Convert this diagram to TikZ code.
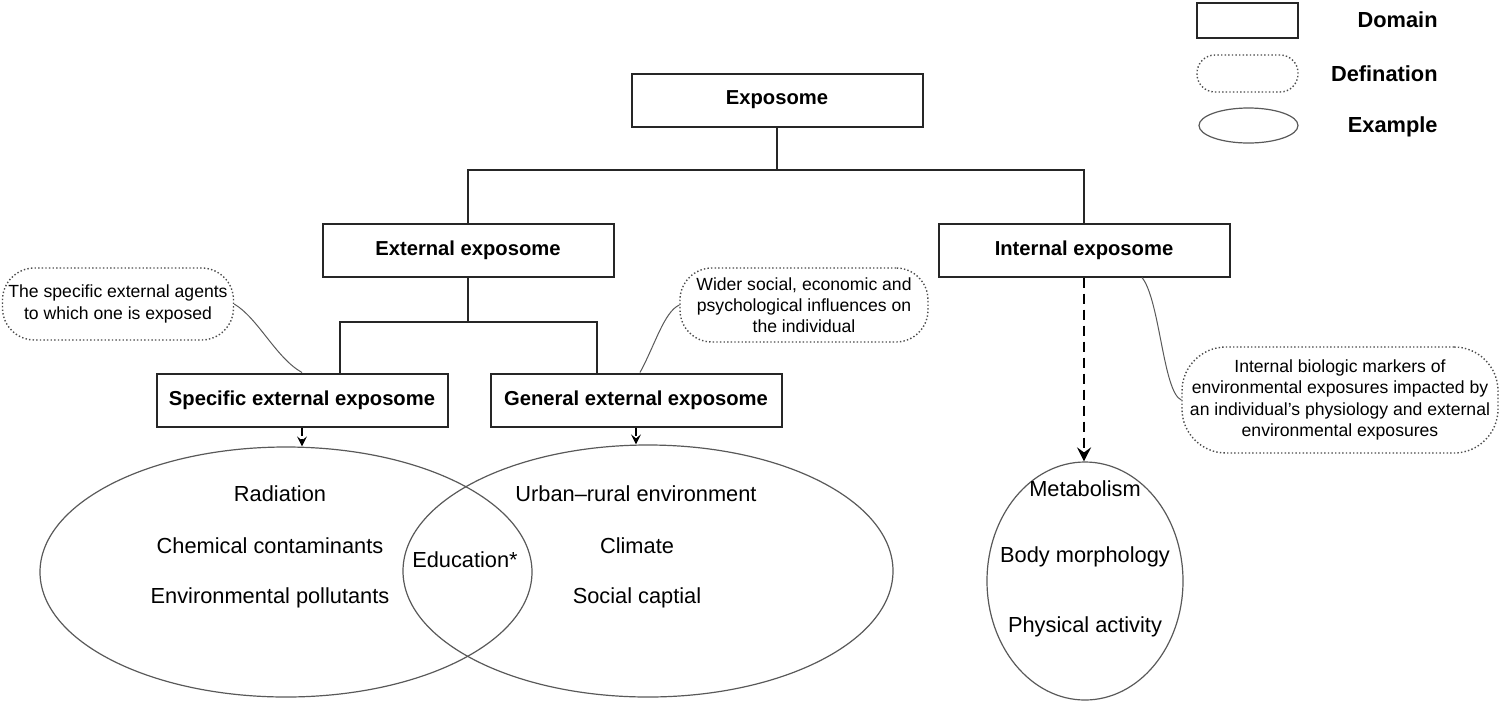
\documentclass[tikz,border=0pt]{standalone}
\usepackage{fontspec}
\setmainfont{Liberation Sans}
\usetikzlibrary{arrows.meta,shapes.geometric}
\begin{document}
\begin{tikzpicture}[x=0.5pt,y=-0.5pt,
  domainbox/.style={draw=black!85,line width=1pt,minimum width=145.5pt,minimum height=26.5pt,inner sep=0pt,font=\fontsize{10.1}{12}\selectfont\bfseries},
  defbox/.style={draw=black!70,line width=0.7pt,dash pattern=on 0.7pt off 1.1pt,rounded corners=16pt,align=center,inner sep=0pt,font=\fontsize{8.8}{10.6}\selectfont},
  exbox/.style={draw=black!65,line width=0.6pt,ellipse,inner sep=0pt},
  txt/.style={font=\fontsize{10.9}{13}\selectfont,inner sep=0pt},
  legtxt/.style={font=\fontsize{10.9}{13}\selectfont\bfseries,anchor=east,inner sep=0pt},
  treeline/.style={draw=black!85,line width=1pt},
  callline/.style={draw=black!65,line width=0.5pt},
  smallarrow/.style={draw=black,line width=1pt,dash pattern=on 4pt off 1.5pt,-{Stealth[length=5pt,width=5pt,inset=2pt]}},
  bigarrow/.style={draw=black,line width=1.3pt,dash pattern=on 5pt off 3pt,-{Stealth[length=7pt,width=7pt,inset=2.5pt]}}
]
\useasboundingbox (0,0) rectangle (1500,703);

% legend
\node[domainbox,minimum width=50.5pt,minimum height=17.5pt] (ldom) at (1247.5,20.5) {};
\node[legtxt] (ldomt) at (1438,20) {Domain};
\node[defbox,minimum width=50.5pt,minimum height=18.5pt,rounded corners=9pt] (ldef) at (1247.5,73.5) {};
\node[legtxt] (ldeft) at (1438,74) {Defination};
\node[exbox,minimum width=49.5pt,minimum height=17.5pt] (lex) at (1248.5,125.5) {};
\node[legtxt] (lext) at (1438,127) {Example};

% domain boxes
\node[domainbox] (expo) at (777,100) {Exposome};
\node[domainbox] (ext) at (468,250) {External exposome};
\node[domainbox] (int) at (1084,250) {Internal exposome};
\node[domainbox] (spec) at (302,400) {Specific external exposome};
\node[domainbox] (gen) at (636,400) {General external exposome};

% tree lines
\coordinate (j1) at (778,170);
\coordinate (j2) at (468,322);
\draw[treeline] (expo.south) -- (expo.south |- j1);
\draw[treeline] (ext.north) -- (ext.north |- j1) -- (int.north |- j1) -- (int.north);
\draw[treeline] (ext.south) -- (ext.south |- j2);
\draw[treeline] ([xshift=19pt]spec.north) -- ([xshift=19pt]spec.north |- j2) -- ([xshift=-19.5pt]gen.north |- j2) -- ([xshift=-19.5pt]gen.north);

% definitions
\node[defbox,minimum width=115.5pt,minimum height=36pt] (lc) at (118,304) {The specific external agents\\to which one is exposed};
\node[defbox,minimum width=124pt,minimum height=37pt] (mc) at (804,305) {Wider social, economic and\\psychological influences on\\the individual};
\node[defbox,minimum width=158pt,minimum height=53pt,rounded corners=22pt] (rc) at (1340,400) {Internal biologic markers of\\environmental exposures impacted by\\an individual’s physiology and external\\environmental exposures};

\draw[callline] (lc.east) .. controls (258,318) and (276,358) .. (spec.north);
\draw[callline] ([xshift=2pt]gen.north) .. controls (655,345) and (664,312) .. (mc.west);
\draw[callline] ([xshift=29pt]int.south) .. controls (1160,300) and (1163,392) .. (rc.west);

% example ellipses
\node[exbox,minimum width=246pt,minimum height=125pt] (le) at (286,572) {};
\node[exbox,minimum width=245pt,minimum height=126pt] (re) at (648,571) {};
\node[exbox,minimum width=98pt,minimum height=119pt] (ie) at (1085,581) {};

\node[txt] (t1) at (280,494) {Radiation};
\node[txt] (t2) at (270,546) {Chemical contaminants};
\node[txt] (t3) at (270,598) {Environmental pollutants};
\node[txt] (t4) at (465,560) {Education*};
\node[txt] (t5) at (636,494) {Urban–rural environment};
\node[txt] (t6) at (637,546) {Climate};
\node[txt] (t7) at (637,598) {Social captial};
\node[txt] (t8) at (1085,489) {Metabolism};
\node[txt] (t9) at (1085,557) {Body morphology};
\node[txt] (t10) at (1085,627) {Physical activity};

% arrows
\draw[smallarrow] (spec.south) -- (spec.south |- le.north);
\draw[smallarrow] (gen.south) -- (gen.south |- re.north);
\draw[bigarrow] (int.south) -- (int.south |- ie.north);
\end{tikzpicture}
\end{document}
